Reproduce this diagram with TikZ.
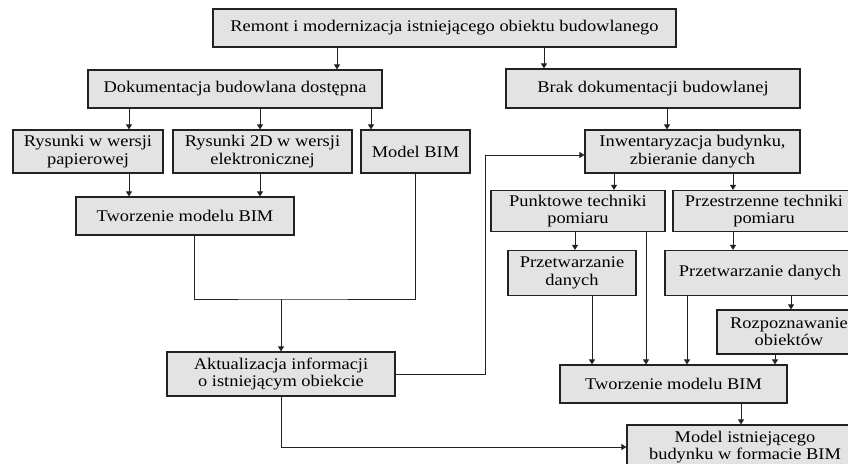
\documentclass[tikz,border=0pt]{standalone}
\usepackage{fontspec}
\setmainfont{Liberation Serif}[FakeStretch=1.13]
\usepackage{tikz}
\usetikzlibrary{arrows.meta}
\definecolor{boxGrey}{HTML}{E3E3E3}
\definecolor{boxLine}{HTML}{222222}

\begin{document}
\begin{tikzpicture}[x=1pt,y=-1pt,font=\fontsize{16.3}{17.3}\selectfont,
  bx/.style 2 args={draw=boxLine,fill=boxGrey,line width=1.2pt,align=center,
             inner sep=0pt,minimum width=#1,minimum height=#2},
  a/.style={-{Triangle[length=5pt,width=6pt]},boxLine,line width=0.9pt},
  ln/.style={boxLine,line width=0.9pt}]
\useasboundingbox (0,0) rectangle (848,463);
\clip (0,0) rectangle (848,463);
% top level
\node[bx={463pt}{38pt}] (remont) at (444.5,28) {Remont i modernizacja istniejącego obiektu budowlanego};
\node[bx={294pt}{38pt}] (dok) at (235,89) {Dokumentacja budowlana dostępna};
\node[bx={294pt}{39pt}] (brak) at (653,88.5) {Brak dokumentacji budowlanej};
% left branch
\node[bx={150pt}{43pt}] (papier) at (88,151.5) {Rysunki w wersji\\papierowej};
\node[bx={179pt}{43pt}] (elektr) at (262.5,151.5) {Rysunki 2D w wersji\\elektronicznej};
\node[bx={109pt}{43pt}] (bim) at (415.5,151.5) {Model BIM};
\node[bx={218pt}{38pt}] (tworzL) at (185,216) {Tworzenie modelu BIM};
\node[bx={228pt}{44pt}] (aktual) at (281,374) {Aktualizacja informacji\\o istniejącym obiekcie};
\coordinate (merge) at (281,299);
% right branch
\node[bx={215pt}{43pt}] (inwent) at (692.5,151.5) {Inwentaryzacja budynku,\\zbieranie danych};
\node[bx={174pt}{41pt}] (punkt) at (578,211) {Punktowe techniki\\pomiaru};
\node[bx={182pt}{41pt}] (przestrz) at (764,211) {Przestrzenne techniki\\pomiaru};
\node[bx={128pt}{45pt}] (przetwL) at (572,273) {Przetwarzanie\\danych};
\node[bx={190pt}{45pt}] (przetwR) at (760,273) {Przetwarzanie danych};
\node[bx={144pt}{44pt}] (rozpozn) at (789,332) {Rozpoznawanie\\obiektów};
\node[bx={227pt}{38pt}] (tworzR) at (673.5,384) {Tworzenie modelu BIM};
\node[bx={236pt}{44pt}] (model) at (745,447) {Model istniejącego\\budynku w formacie BIM};

\draw[a] ([xshift=-107.5pt]remont.south) -- ([xshift=102pt]dok.north);
\draw[a] ([xshift=99.5pt]remont.south) -- ([xshift=-109pt]brak.north);
\draw[a] ([xshift=-106pt]dok.south) -- ([xshift=41pt]papier.north);
\draw[a] ([xshift=25pt]dok.south) -- ([xshift=-2.5pt]elektr.north);
\draw[a] ([xshift=136pt]dok.south) -- ([xshift=-44.5pt]bim.north);
\draw[a] ([xshift=41pt]papier.south) -- ([xshift=-56pt]tworzL.north);
\draw[a] ([xshift=-2.5pt]elektr.south) -- ([xshift=75pt]tworzL.north);
\draw[ln] ([xshift=9pt]tworzL.south) |- (merge) -| (bim.south);
\draw[a] (merge) -- (aktual.north);
\draw[a] (aktual.east) -- ++(90,0) |- ([yshift=-3.5pt]inwent.west);
\draw[a] (aktual.south) |- (model.west);
\draw[a] ([xshift=14pt]brak.south) -- ([xshift=-25.5pt]inwent.north);
\draw[a] ([xshift=-78.5pt]inwent.south) -- ([xshift=36pt]punkt.north);
\draw[a] ([xshift=40.5pt]inwent.south) -- ([xshift=-31pt]przestrz.north);
\draw[a] ([xshift=-3pt]punkt.south) -- ([xshift=3pt]przetwL.north);
\draw[a] ([xshift=68pt]punkt.south) -- ([xshift=-27.5pt]tworzR.north);
\draw[a] ([xshift=-31pt]przestrz.south) -- ([xshift=-27pt]przetwR.north);
\draw[a] ([xshift=20pt]przetwL.south) -- ([xshift=-81.5pt]tworzR.north);
\draw[a] ([xshift=-73pt]przetwR.south) -- ([xshift=13.5pt]tworzR.north);
\draw[a] ([xshift=31pt]przetwR.south) -- ([xshift=2pt]rozpozn.north);
\draw[a] ([xshift=-14pt]rozpozn.south) -- ([xshift=101.5pt]tworzR.north);
\draw[a] ([xshift=67.5pt]tworzR.south) -- ([xshift=-4pt]model.north);
\end{tikzpicture}
\end{document}
